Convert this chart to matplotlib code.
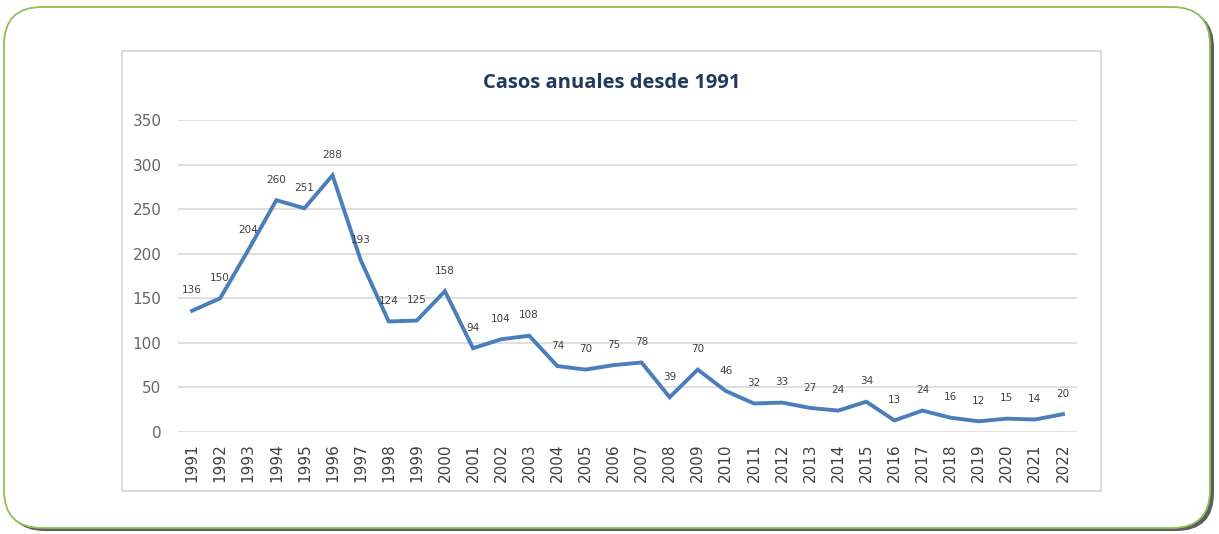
import matplotlib.pyplot as plt
from matplotlib.patches import FancyBboxPatch, Rectangle

years = [str(y) for y in range(1991, 2023)]
cases = [136, 150, 204, 260, 251, 288, 193, 124, 125, 158, 94, 104, 108, 74, 70,
         75, 78, 39, 70, 46, 32, 33, 27, 24, 34, 13, 24, 16, 12, 15, 14, 20]
y_ticks = [0, 50, 100, 150, 200, 250, 300, 350]

W, H = 1219, 534
fig = plt.figure(figsize=(W / 100, H / 100), dpi=100)
fig.patch.set_facecolor('white')

# background layer in pixel units
bg = fig.add_axes([0, 0, 1, 1])
bg.set_xlim(0, W)
bg.set_ylim(H, 0)
bg.axis('off')

# shadow + green rounded frame
bg.add_patch(FancyBboxPatch((7, 10), 1207, 521, boxstyle="round,pad=0,rounding_size=38",
                            fc='#5e5e5e', ec='none', zorder=0))
bg.add_patch(FancyBboxPatch((4, 7), 1206, 521, boxstyle="round,pad=0,rounding_size=38",
                            fc='white', ec='#8cc156', lw=1.3, zorder=1))
# chart box
bg.add_patch(Rectangle((122, 51), 979, 440, fc='white', ec='#d4d4d4', lw=1.2, zorder=2))

bg.text(612, 83, 'Casos anuales desde 1991', ha='center', va='center',
        fontsize=14.5, fontweight='bold', color='#1f3a5f', family='Open Sans', zorder=3)

# plot area
ax = fig.add_axes([178 / W, 1 - 432 / H, (1077 - 178) / W, (432 - 120) / H])
ax.set_facecolor('none')
x = list(range(len(years)))
ax.plot(x, cases, color='#4a7ebb', lw=2.8, solid_joinstyle='miter', zorder=3)

for xi, v in zip(x, cases):
    ax.annotate(str(v), (xi, v), xytext=(0, 11), textcoords='offset points',
                ha='center', va='bottom', fontsize=7.5, color='#404040')

ax.set_xlim(-0.5, len(years) - 0.5)
ax.set_ylim(0, 350)
ax.set_yticks(y_ticks)
ax.set_yticklabels([str(t) for t in y_ticks], fontsize=11, color='#666666')
ax.set_xticks(x)
ax.set_xticklabels(years, rotation=90, fontsize=11, color='#404040')
ax.grid(axis='y', color='#d9d9d9', lw=1.2)
ax.set_axisbelow(True)
for s in ax.spines.values():
    s.set_visible(False)
ax.tick_params(length=0)
ax.tick_params(axis='y', pad=12)
ax.tick_params(axis='x', pad=8)

fig.savefig('out.png', dpi=100)
